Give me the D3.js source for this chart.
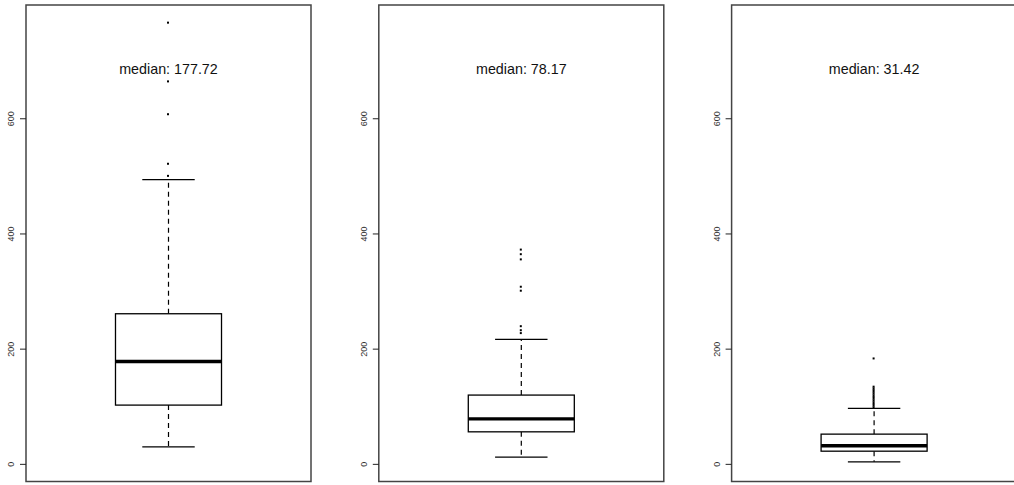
<!DOCTYPE html>
<html>
<head>
<meta charset="utf-8">
<script src="https://cdn.jsdelivr.net/npm/d3@7"></script>
<style>
  html, body { margin: 0; padding: 0; background: #fff; overflow: hidden; }
  svg { display: block; font-family: Arial, "Liberation Sans", sans-serif; }
</style>
</head>
<body>
<svg id="chart" width="1014" height="485"></svg>
<script>
// Five-number summaries for the three groups
const medians   = [177.72, 78.17, 31.42];
const q1s       = [102, 55.6, 22];
const q3s       = [260.6, 119.4, 51.6];
const lowerWh   = [29.5, 11.6, 3.5];
const upperWh   = [493.5, 216, 96.2];
// Points beyond the whiskers
const outliers1 = [766, 664, 607, 521, 500];
const outliers2 = [372, 364, 355, 307.5, 300.6, 239, 232, 227];
const outliers3 = [183, 134, 131, 128, 125, 122, 119, 116, 113, 110, 107, 104, 101, 98];
const outliers  = [outliers1, outliers2, outliers3];
// Shared value range and axis ticks
const yLimits   = [0, 766];
const yTicks    = [0, 200, 400, 600];
const labelValue = 686;

const svg = d3.select("#chart");

// Panel geometry
const panelLeft0 = 26, panelPitch = 352.8, panelWidth = 285;
const plotTop = 5, plotBottom = 481.5;

// R-style 4% range extension
const span = yLimits[1] - yLimits[0];
const y = d3.scaleLinear()
  .domain([yLimits[0] - 0.04 * span, yLimits[1] + 0.04 * span])
  .range([plotBottom, plotTop]);

medians.forEach((med, i) => {
  const left = panelLeft0 + i * panelPitch;
  const x = d3.scaleLinear().domain([0.5, 1.5]).range([left, left + panelWidth]);
  const g = svg.append("g");
  const cx = x(1);
  const boxHalf = 0.186, capHalf = 0.092;

  // Frame
  g.append("rect")
    .attr("x", left).attr("y", plotTop)
    .attr("width", panelWidth).attr("height", plotBottom - plotTop)
    .attr("fill", "none").attr("stroke", "#444").attr("stroke-width", 1.5);

  // Y axis
  const axis = g.append("g")
    .attr("transform", `translate(${left},0)`)
    .call(d3.axisLeft(y).tickValues(yTicks).tickSize(6).tickPadding(0).tickFormat(d3.format("d")));
  axis.select(".domain").remove();
  axis.selectAll(".tick line").attr("stroke", "#222").attr("stroke-width", 1);
  axis.selectAll(".tick text")
    .attr("x", 0).attr("y", 0).attr("dy", null)
    .attr("text-anchor", "middle")
    .attr("transform", "translate(-15,0) rotate(-90)")
    .attr("dominant-baseline", "central")
    .attr("font-size", 9).attr("fill", "#333")
    .attr("font-family", "Arial, 'Liberation Sans', sans-serif");

  // Whiskers (dashed) and caps
  g.append("line")
    .attr("x1", cx).attr("x2", cx)
    .attr("y1", y(q3s[i])).attr("y2", y(upperWh[i]))
    .attr("stroke", "#000").attr("stroke-width", 1.2).attr("stroke-dasharray", "5,4");
  g.append("line")
    .attr("x1", cx).attr("x2", cx)
    .attr("y1", y(q1s[i])).attr("y2", y(lowerWh[i]))
    .attr("stroke", "#000").attr("stroke-width", 1.2).attr("stroke-dasharray", "5,4");
  [upperWh[i], lowerWh[i]].forEach(v => {
    g.append("line")
      .attr("x1", x(1 - capHalf)).attr("x2", x(1 + capHalf))
      .attr("y1", y(v)).attr("y2", y(v))
      .attr("stroke", "#000").attr("stroke-width", 1.3);
  });

  // Box
  g.append("rect")
    .attr("x", x(1 - boxHalf)).attr("y", y(q3s[i]))
    .attr("width", x(1 + boxHalf) - x(1 - boxHalf))
    .attr("height", y(q1s[i]) - y(q3s[i]))
    .attr("fill", "#fff").attr("stroke", "#000").attr("stroke-width", 1.3);

  // Median
  g.append("line")
    .attr("x1", x(1 - boxHalf)).attr("x2", x(1 + boxHalf))
    .attr("y1", y(med)).attr("y2", y(med))
    .attr("stroke", "#000").attr("stroke-width", 3.4);

  // Outliers
  g.selectAll(".out").data(outliers[i]).join("rect")
    .attr("class", "out")
    .attr("x", cx - 1.5).attr("y", d => y(d) - 1)
    .attr("width", 2).attr("height", 2)
    .attr("fill", "#000");

  // Median label on a white backing
  const lg = g.append("g");
  const bg = lg.append("rect").attr("fill", "#fff");
  const label = lg.append("text")
    .attr("x", cx).attr("y", y(labelValue))
    .attr("text-anchor", "middle").attr("dominant-baseline", "central")
    .attr("font-size", 14.3).attr("fill", "#111")
    .text(`median: ${med.toFixed(2)}`);
  const bb = label.node().getBBox();
  bg.attr("x", bb.x - 2).attr("y", bb.y)
    .attr("width", bb.width + 4).attr("height", bb.height);
});
</script>
</body>
</html>
